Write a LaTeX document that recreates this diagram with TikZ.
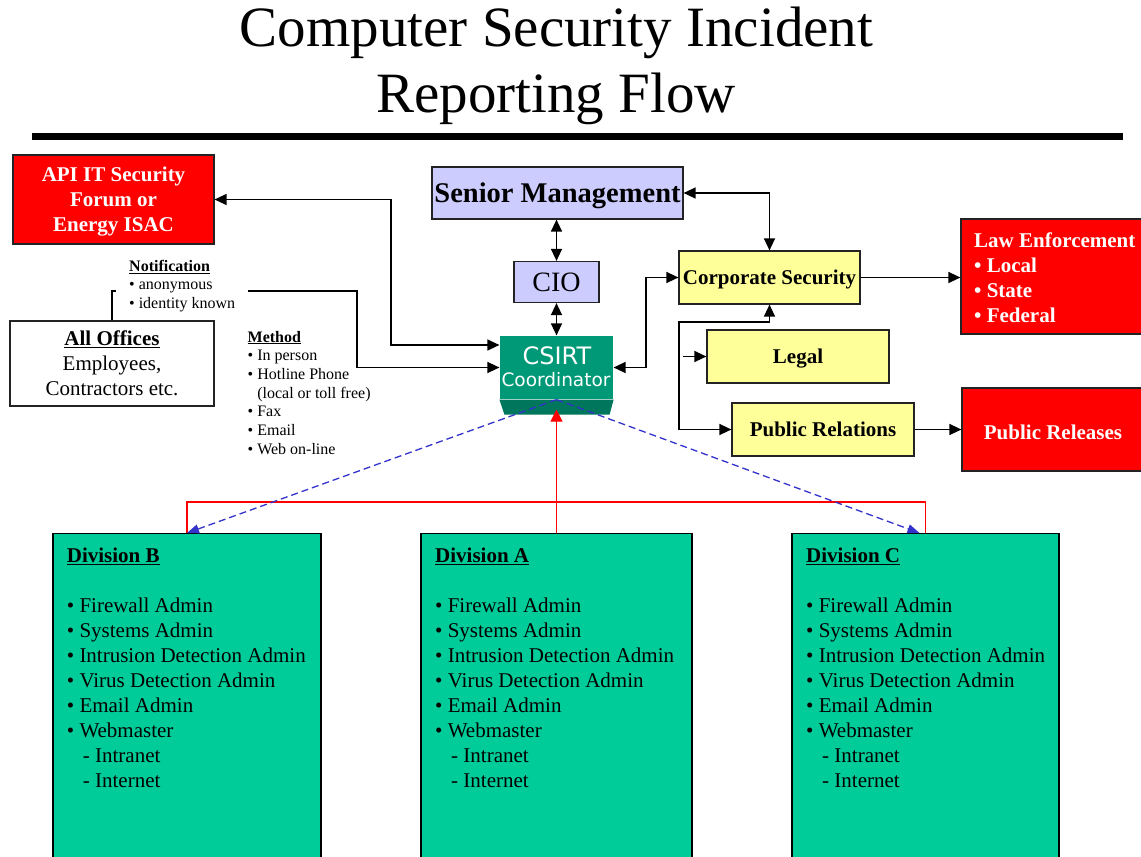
\documentclass[tikz,border=0pt]{standalone}
\usepackage{fontspec}
\setmainfont{Liberation Serif}
\newfontfamily\teamfont{DejaVu Sans}
\usetikzlibrary{arrows.meta,calc}

\definecolor{alertred}{RGB}{255,0,0}
\definecolor{mgmt}{RGB}{204,204,255}
\definecolor{corp}{RGB}{255,255,153}
\definecolor{division}{RGB}{0,204,153}
\definecolor{teamtop}{RGB}{0,153,119}
\definecolor{teambase}{RGB}{0,118,92}
\definecolor{dashblue}{RGB}{51,51,204}
\definecolor{edge}{RGB}{35,35,35}

% staff roles listed in every division box
\newcommand\stafflist[1]{\textbf{\underline{Division #1}}\\[25pt]
\textbullet\ Firewall Admin\\
\textbullet\ Systems Admin\\
\textbullet\ Intrusion Detection Admin\\
\textbullet\ Virus Detection Admin\\
\textbullet\ Email Admin\\
\textbullet\ Webmaster\\
\hspace*{16pt}- Intranet\\
\hspace*{16pt}- Internet}

\begin{document}
\begin{tikzpicture}[x=1pt,y=-1pt,
  >={Triangle[length=12pt,width=11pt]},
  box/.style={draw=edge, line width=1.2pt, inner sep=0pt, rectangle, text depth=0pt},
  redbox/.style={box, fill=alertred},
  lavbox/.style={box, fill=mgmt},
  yelbox/.style={box, fill=corp},
  divbox/.style={box, draw=black, fill=division, minimum height=337pt, anchor=north},
  boldtext/.style={font=\fontsize{21}{25}\selectfont\bfseries},
  plaintext/.style={font=\fontsize{21}{25}\selectfont},
  smalltext/.style={font=\fontsize{16}{18.7}\selectfont},
  link/.style={draw=black, line width=1.4pt},
  redlink/.style={draw=alertred, line width=1.2pt},
  bluelink/.style={draw=dashblue, line width=1.3pt, dash pattern=on 7pt off 4pt,
    -{Triangle[length=12pt,width=9pt]}}
]
\useasboundingbox (0,0) rectangle (1141,857);
\clip (0,0) rectangle (1141,857);

% heading
\node[font=\fontsize{57}{67}\selectfont, anchor=base] (title1) at (556.5,46.5) {Computer Security Incident};
\node[font=\fontsize{57}{67}\selectfont, anchor=base] (title2) at (556,112.5) {Reporting Flow};
\draw[line width=7pt] (32,136.5) -- (1123,136.5);

% boxes
\node[redbox, minimum width=201pt, minimum height=89pt, text=white, align=center, boldtext] (api) at (113.5,199.5) {API IT Security\\Forum or\\Energy ISAC};
\node[lavbox, minimum width=251pt, minimum height=52pt, font=\fontsize{28.5}{30}\selectfont\bfseries] (sm) at (557.5,193) {Senior Management};
\node[lavbox, minimum width=85pt, minimum height=41pt, font=\fontsize{28}{30}\selectfont] (cio) at (556.5,282) {CIO};

\node[box, draw=none, fill=teamtop, minimum width=113pt, minimum height=63pt] (csirt) at (556.5,367.5) {};
\fill[teambase] (csirt.south west) -- (csirt.south east) -- ++(-4,15) -- ($(csirt.south west)+(5,15)$) -- cycle;
\node[text=white, font=\teamfont\fontsize{24}{24}\selectfont, anchor=base] (csirtname) at (557,364.3) {CSIRT};
\node[text=white, font=\teamfont\fontsize{18.5}{20}\selectfont, anchor=base] (csirtrole) at (556,386) {Coordinator};

\node[yelbox, minimum width=181pt, minimum height=53pt, boldtext] (cs) at (769.5,277.5) {Corporate Security};
\node[yelbox, minimum width=182pt, minimum height=53pt, boldtext] (legal) at (798,356.5) {Legal};
\node[yelbox, minimum width=182pt, minimum height=53pt, boldtext] (pr) at (823,429.5) {Public Relations};

\node[redbox, minimum width=190pt, minimum height=115pt] (le) at (1056,276.5) {};
\node[text=white, boldtext, align=left, anchor=north west, inner sep=0pt] (letext) at (974,232.2)
  {Law Enforcement\\\textbullet\ Local\\\textbullet\ State\\\textbullet\ Federal};
\node[redbox, minimum width=189pt, minimum height=83pt] (prel) at (1056.5,429.5) {};
\node[text=white, boldtext, inner sep=0pt] (preltext) at (1053,432) {Public Releases};

\node[box, fill=white, minimum width=204pt, minimum height=85pt, align=center, plaintext] (offices) at (112,363.5)
  {\textbf{\underline{All Offices}}\\Employees,\\Contractors etc.};

\node[divbox, minimum width=268pt] (divB) at (187,533) {};
\node[divbox, minimum width=271pt] (divA) at (556.5,533) {};
\node[divbox, minimum width=267pt] (divC) at (925.5,533) {};
\node[anchor=north west, inner sep=0pt, align=left, plaintext] (divBtext) at (66.7,547.7) {\stafflist{B}};
\node[anchor=north west, inner sep=0pt, align=left, plaintext] (divAtext) at (435,547.7) {\stafflist{A}};
\node[anchor=north west, inner sep=0pt, align=left, plaintext] (divCtext) at (806,547.7) {\stafflist{C}};

% reporting lines
\draw[link, <->] (api.east) -| (391,345) -- (csirt.west |- 391,345);
\draw[link, ->] (offices.north) |- (357,291) |- (csirt.west);
\draw[link, <->] (sm.south -| cio.north) -- (cio.north);
\draw[link, <->] (cio.south) -- (cio.south |- csirt.north);
\draw[link, <->] (sm.east) -| (cs.north);
\draw[link, <->] (csirt.east) -- (646,367.5) |- (cs.west);
\draw[link, <->] (cs.south) |- (679,322) |- (pr.west);
\draw[link, ->] (legal.west -| 683,0) -- (legal.west);
\draw[link, ->] (cs.east) -- (cs.east -| le.west);
\draw[link, ->] (pr.east) -- (pr.east -| prel.west);

% division links
\draw[redlink] (divB.north) -- ++(0,-31) -| (divC.north);
\draw[redlink, -{Triangle[length=12pt,width=12pt]}, shorten >=10pt] (divA.north) -- (csirt.south);
\draw[bluelink] (csirt.south) -- (divB.north);
\draw[bluelink] (csirt.south) -- ([xshift=-6pt]divC.north);

% reporting options
\node[anchor=north west, fill=white, inner xsep=13pt, inner ysep=2pt, align=left, smalltext] (notice) at (116,257.7)
  {\textbf{\underline{Notification}}\\\textbullet\ anonymous\\\textbullet\ identity known};
\node[anchor=north west, inner sep=0pt, align=left, smalltext] (method) at (247.5,330.7)
  {\textbf{\underline{Method}}\\\textbullet\ In person\\\textbullet\ Hotline Phone\\\phantom{\textbullet\ }(local or toll free)\\\textbullet\ Fax\\\textbullet\ Email\\\textbullet\ Web on-line};
\end{tikzpicture}
\end{document}
